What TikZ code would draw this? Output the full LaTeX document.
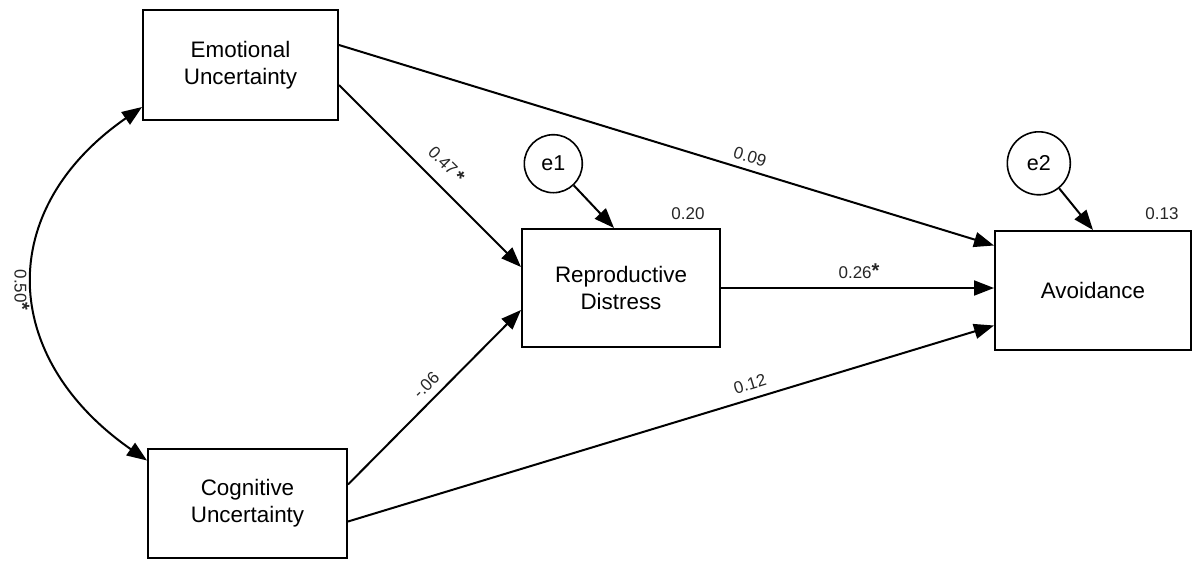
\documentclass[tikz,border=0pt]{standalone}
\usepackage{fontspec}
\setmainfont{Liberation Sans}
\usetikzlibrary{arrows.meta}
\newcommand{\sigstar}{{\fontsize{20}{20}\selectfont\bfseries *}}
\begin{document}
\begin{tikzpicture}[x=1pt,y=-1pt,
  box/.style={draw, line width=2pt, align=center, inner sep=0pt,
    font=\fontsize{22.4}{27}\selectfont},
  err/.style={draw, circle, line width=1.6pt, inner sep=0pt,
    font=\fontsize{21.5}{25}\selectfont},
  conn/.style={line width=2pt, -{Triangle[length=20pt,width=15pt]}},
  lab/.style={font=\fontsize{17}{20}\selectfont, inner sep=0pt, text=black!85}]
\useasboundingbox (0,0) rectangle (1193,560);
\fill[white] (0,0) rectangle (1193,560);
% boxes
\node[box, minimum width=195pt, minimum height=110pt] (EU) at (240.5,65) {Emotional\\Uncertainty};
\node[box, minimum width=198pt, minimum height=118pt] (RD) at (621,288) {Reproductive\\Distress};
\node[box, minimum width=196pt, minimum height=119pt] (AV) at (1093,290.5) {Avoidance};
\node[box, minimum width=199pt, minimum height=109pt] (CU) at (247.5,503.5) {Cognitive\\Uncertainty};
% error terms
\node[err, minimum size=58pt] (e1) at (553.3,163.7) {e1};
\node[err, minimum size=63pt] (e2) at (1038.8,163.3) {e2};
% paths
\draw[conn] ([yshift=-20pt]EU.east) -- ([yshift=21pt]RD.west);
\draw[conn] ([yshift=20pt]EU.east) -- ([yshift=45pt]AV.west);
\draw[conn] (RD.east) -- (RD.east -| AV.west);
\draw[conn] ([yshift=19pt]CU.east) -- ([yshift=-22pt]RD.west);
\draw[conn] ([yshift=-18pt]CU.east) -- ([yshift=-35pt]AV.west);
\draw[conn] (e1) -- ([xshift=-7pt]RD.north);
\draw[conn] (e2) -- (AV.north);
% covariance
\draw[line width=2pt, {Triangle[length=20pt,width=15pt]}-{Triangle[length=20pt,width=15pt]}]
  ([yshift=-42pt]EU.west) .. controls +(-147.6,102.6) and +(-147.6,-103) .. ([yshift=43pt]CU.west);
% labels
\node[lab, rotate=-45] (l1) at (446,165) {0.47\,\raisebox{-2pt}{\sigstar}};
\node[lab, rotate=-17] (l2) at (750,157) {0.09};
\node[lab] (l3) at (688,214) {0.20};
\node[lab] (l4) at (1162,214) {0.13};
\node[lab] (l5) at (859,271) {0.26\raisebox{1pt}{\sigstar}};
\node[lab, rotate=45] (l6) at (426,385) {-.06};
\node[lab, rotate=17] (l7) at (750,384) {0.12};
\node[lab, rotate=-90] (l8) at (22,290) {0.50\raisebox{1pt}{\sigstar}};
\end{tikzpicture}
\end{document}
